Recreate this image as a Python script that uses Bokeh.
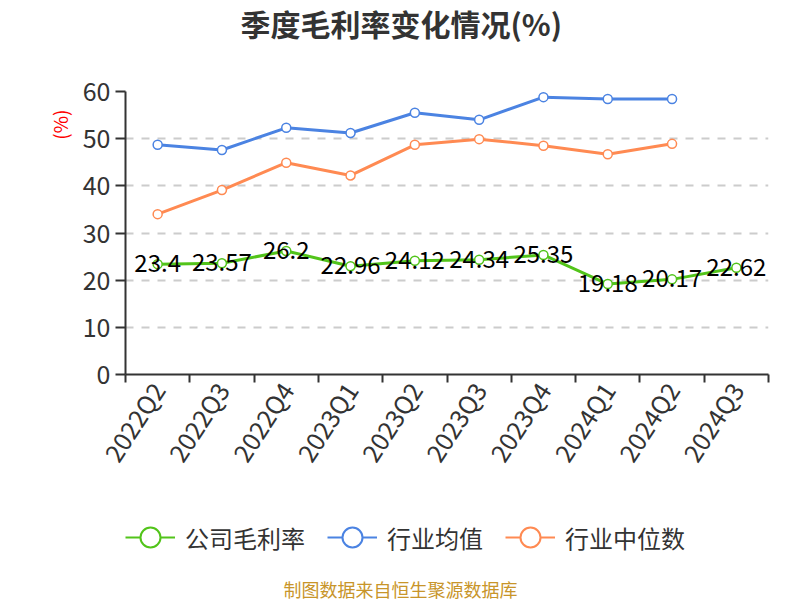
import math
from bokeh.plotting import figure
from bokeh.layouts import column
from bokeh.models import (FixedTicker, Legend, LegendItem, ColumnDataSource,
                          Range1d, Title, Label)
from bokeh.core.properties import value
from bokeh.embed import file_html
from bokeh.resources import INLINE

quarters = ["2022Q2", "2022Q3", "2022Q4", "2023Q1", "2023Q2", "2023Q3",
            "2023Q4", "2024Q1", "2024Q2", "2024Q3"]
company = [23.4, 23.57, 26.2, 22.96, 24.12, 24.34, 25.35, 19.18, 20.17, 22.62]
industry_mean = [48.7, 47.6, 52.3, 51.2, 55.5, 54.0, 58.8, 58.4, 58.4]
industry_median = [34.0, 39.1, 44.9, 42.2, 48.7, 49.9, 48.5, 46.7, 48.9]
y_ticks = [0, 10, 20, 30, 40, 50, 60]
series_names = ["公司毛利率", "行业均值", "行业中位数"]

FONT = "Noto Sans CJK SC"
GREEN = "#52c41a"
BLUE = "#4b83e2"
ORANGE = "#ff8a52"
colors = [GREEN, BLUE, ORANGE]

xs = [i + 0.5 for i in range(len(quarters))]
sources = [ColumnDataSource(dict(x=xs[:len(v)], y=v))
           for v in (company, industry_mean, industry_median)]

p = figure(width=800, height=490, output_backend="svg", toolbar_location=None,
           x_range=Range1d(0, len(quarters)), y_range=Range1d(0, 60),
           min_border_left=125, min_border_right=32, min_border_top=91,
           min_border_bottom=116)
p.outline_line_color = None
p.background_fill_color = "white"
p.border_fill_color = "white"

# spacer (inner) and main title (outer)
p.add_layout(Title(text=" ", text_font_size="1px", standoff=51), "above")
p.add_layout(Title(text="季度毛利率变化情况(%)", align="left", offset=115,
                   text_font=FONT, text_font_size="30px", text_font_style="bold",
                   text_color="#333333", standoff=-14), "above")

# axes
p.xaxis.ticker = FixedTicker(ticks=xs, minor_ticks=list(range(len(quarters) + 1)))
p.xaxis.major_label_overrides = {x: q for x, q in zip(xs, quarters)}
p.xaxis.major_tick_out = 0
p.xaxis.major_tick_in = 0
p.xaxis.minor_tick_out = 8
p.xaxis.minor_tick_in = 0
p.xaxis.minor_tick_line_color = "#333333"
p.xaxis.minor_tick_line_width = 2
p.xaxis.axis_line_color = "#333333"
p.xaxis.axis_line_width = 2
p.xaxis.major_label_orientation = math.radians(57)
p.xaxis.major_label_text_font = FONT
p.xaxis.major_label_text_font_size = "25px"
p.xaxis.major_label_text_color = "#333333"
p.xaxis.major_label_standoff = 2

p.yaxis.ticker = FixedTicker(ticks=y_ticks)
p.yaxis.minor_tick_line_color = None
p.yaxis.major_tick_out = 10
p.yaxis.major_tick_in = 0
p.yaxis.major_tick_line_color = "#333333"
p.yaxis.major_tick_line_width = 2
p.yaxis.axis_line_color = "#333333"
p.yaxis.axis_line_width = 2
p.yaxis.major_label_text_font = FONT
p.yaxis.major_label_text_font_size = "25px"
p.yaxis.major_label_text_color = "#333333"
p.yaxis.major_label_standoff = 5

p.add_layout(Title(text="(%)", align="right", offset=18, text_font=FONT,
                   text_font_size="19px", text_font_style="normal",
                   text_color="#ff0000", standoff=14), "left")

p.xgrid.grid_line_color = None
p.ygrid.grid_line_color = "#cccccc"
p.ygrid.grid_line_dash = "8 8"
p.ygrid.grid_line_width = 2

for src, col in zip(sources, colors):
    p.line("x", "y", source=src, line_color=col, line_width=3)
    p.scatter("x", "y", source=src, size=9, fill_color="white",
              line_color=col, line_width=1.5)

lab_src = ColumnDataSource(dict(x=xs, y=company, t=[f"{v:g}" for v in company]))
p.text("x", "y", text="t", source=lab_src, text_align="center",
       text_baseline="middle", text_font=value(FONT), text_font_size="24px",
       text_color="black", y_offset=-1)

# legend strip + source note (frame is aligned with the chart above)
p2 = figure(width=800, height=110, output_backend="svg", toolbar_location=None,
            x_range=Range1d(0, len(quarters)), y_range=Range1d(1000, 1001),
            min_border_left=125, min_border_right=32, min_border_top=0,
            min_border_bottom=0)
p2.axis.visible = False
p2.grid.visible = False
p2.outline_line_color = None
p2.background_fill_color = "white"
p2.border_fill_color = "white"

items = []
for name, src, col in zip(series_names, sources, colors):
    lr = p2.line("x", "y", source=src, line_color=col, line_width=2)
    sr = p2.scatter("x", "y", source=src, size=9, fill_color="white",
                    line_color=col, line_width=2)
    items.append(LegendItem(label=name, renderers=[lr, sr]))

legend = Legend(items=items, orientation="horizontal", location=(0, 38),
                glyph_width=50, glyph_height=50, label_standoff=10, spacing=22,
                padding=0, margin=0, border_line_color=None,
                background_fill_alpha=0, label_text_font=FONT,
                label_text_font_size="24px", label_text_color="#333333")
p2.add_layout(legend)

p2.add_layout(Label(x=275, y=12, x_units="screen", y_units="screen",
                    text="制图数据来自恒生聚源数据库", text_align="center",
                    text_baseline="middle", text_font=FONT, text_font_size="18px",
                    text_color="#c8952a"))

open("out.html", "w").write(file_html(column(p, p2, spacing=0), INLINE))
